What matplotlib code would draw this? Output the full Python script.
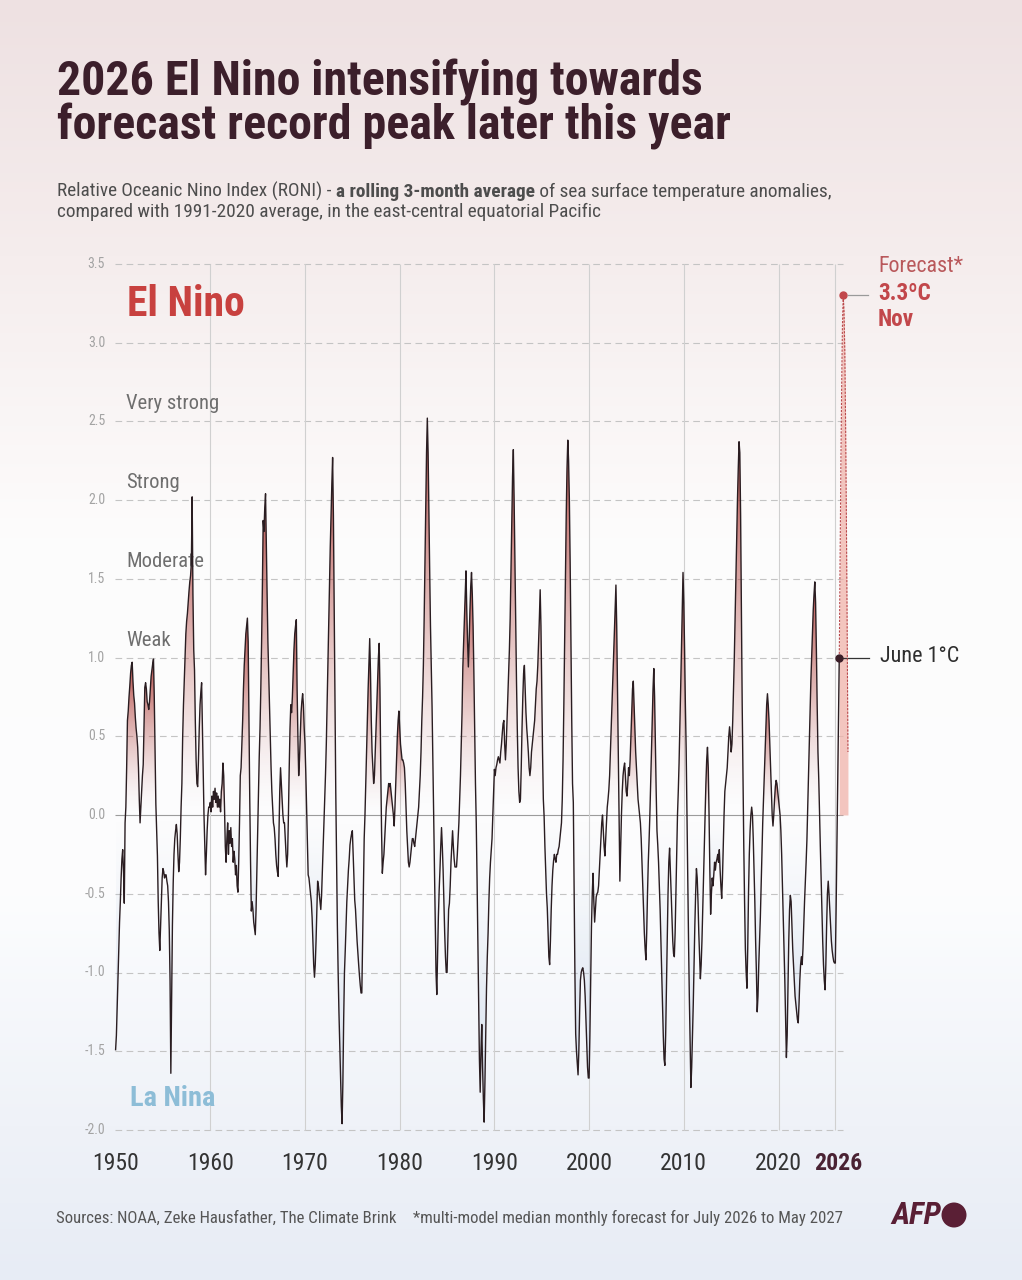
import numpy as np
import matplotlib
matplotlib.use('Agg')
import matplotlib.pyplot as plt
from matplotlib import font_manager
from matplotlib.path import Path
from matplotlib.patches import PathPatch, Ellipse
from matplotlib.colors import to_rgb

# monthly RONI, Jan 1950 .. Jun 2026
start_year = 1950
roni = [
    -1.49, -1.40, -1.22, -1.05, -0.85, -0.68, -0.55, -0.40, -0.28, -0.22, -0.35, -0.56,  # 1950
    -0.05, 0.05, 0.30, 0.60, 0.66, 0.75, 0.82, 0.90, 0.95, 0.97, 0.85, 0.76,  # 1951
    0.71, 0.62, 0.55, 0.50, 0.43, 0.30, 0.10, -0.05, 0.05, 0.15, 0.25, 0.32,  # 1952
    0.55, 0.81, 0.84, 0.80, 0.72, 0.70, 0.67, 0.72, 0.80, 0.88, 0.92, 0.96,  # 1953
    0.99, 0.75, 0.40, 0.07, -0.10, -0.26, -0.55, -0.75, -0.86, -0.70, -0.55, -0.40,  # 1954
    -0.34, -0.36, -0.40, -0.38, -0.38, -0.42, -0.45, -0.55, -0.73, -1.05, -1.64, -1.20,  # 1955
    -0.70, -0.43, -0.25, -0.15, -0.10, -0.06, -0.12, -0.25, -0.36, -0.30, -0.15, 0.05,  # 1956
    0.20, 0.50, 0.70, 0.85, 1.00, 1.15, 1.23, 1.28, 1.35, 1.42, 1.48, 1.52,  # 1957
    1.60, 2.02, 1.40, 1.05, 0.92, 0.60, 0.35, 0.20, 0.18, 0.35, 0.55, 0.70,  # 1958
    0.78, 0.84, 0.55, 0.25, 0.00, -0.20, -0.38, -0.25, -0.10, 0.00, 0.05, 0.05,  # 1959
    0.08, 0.02, 0.12, 0.05, 0.15, 0.10, 0.17, 0.08, 0.14, 0.05, 0.12, 0.05,  # 1960
    0.10, 0.02, 0.15, 0.20, 0.33, 0.25, 0.05, -0.20, -0.30, -0.15, -0.05, -0.25,  # 1961
    -0.10, -0.18, -0.08, -0.20, -0.15, -0.30, -0.23, -0.28, -0.38, -0.32, -0.45, -0.49,  # 1962
    -0.30, -0.05, 0.25, 0.30, 0.45, 0.60, 0.80, 0.95, 1.05, 1.15, 1.20, 1.25,  # 1963
    1.10, 0.60, 0.10, -0.30, -0.61, -0.55, -0.60, -0.68, -0.72, -0.76, -0.60, -0.35,  # 1964
    -0.10, 0.15, 0.37, 0.55, 0.80, 1.10, 1.45, 1.87, 1.80, 1.95, 2.04, 1.70,  # 1965
    1.40, 1.10, 0.90, 0.72, 0.50, 0.30, 0.15, 0.05, -0.05, -0.08, -0.15, -0.25,  # 1966
    -0.32, -0.36, -0.39, -0.10, 0.15, 0.30, 0.20, 0.10, 0.00, -0.05, -0.05, -0.15,  # 1967
    -0.25, -0.33, -0.25, 0.00, 0.30, 0.55, 0.70, 0.65, 0.75, 0.90, 1.05, 1.15,  # 1968
    1.20, 1.24, 0.80, 0.50, 0.25, 0.35, 0.50, 0.65, 0.72, 0.77, 0.70, 0.55,  # 1969
    0.45, 0.27, 0.05, -0.15, -0.38, -0.40, -0.45, -0.50, -0.55, -0.65, -0.80, -0.95,  # 1970
    -1.03, -0.95, -0.80, -0.60, -0.42, -0.45, -0.50, -0.55, -0.60, -0.51, -0.35, -0.20,  # 1971
    -0.05, 0.10, 0.26, 0.45, 0.70, 0.95, 1.20, 1.45, 1.70, 1.90, 2.10, 2.27,  # 1972
    1.90, 1.30, 0.70, 0.14, -0.30, -0.70, -1.00, -1.25, -1.45, -1.65, -1.85, -1.96,  # 1973
    -1.70, -1.30, -1.00, -0.86, -0.70, -0.55, -0.45, -0.35, -0.28, -0.19, -0.15, -0.12,  # 1974
    -0.10, -0.25, -0.40, -0.54, -0.60, -0.70, -0.80, -0.88, -0.95, -1.02, -1.08, -1.13,  # 1975
    -1.13, -0.80, -0.45, -0.15, 0.00, 0.20, 0.40, 0.60, 0.80, 0.95, 1.12, 0.90,  # 1976
    0.60, 0.40, 0.30, 0.20, 0.25, 0.40, 0.55, 0.70, 0.85, 1.00, 1.09, 0.80,  # 1977
    0.30, -0.10, -0.37, -0.30, -0.25, -0.15, -0.05, 0.05, 0.10, 0.15, 0.20, 0.18,  # 1978
    0.20, 0.15, 0.10, 0.05, 0.00, -0.07, 0.05, 0.20, 0.35, 0.50, 0.60, 0.66,  # 1979
    0.55, 0.45, 0.40, 0.35, 0.35, 0.33, 0.30, 0.20, 0.05, -0.10, -0.20, -0.30,  # 1980
    -0.33, -0.30, -0.25, -0.20, -0.15, -0.15, -0.18, -0.20, -0.15, -0.10, -0.05, 0.00,  # 1981
    0.05, 0.15, 0.25, 0.40, 0.60, 0.75, 0.95, 1.25, 1.60, 1.95, 2.30, 2.52,  # 1982
    2.30, 1.90, 1.55, 1.20, 0.95, 0.69, 0.35, 0.00, -0.35, -0.70, -1.00, -1.14,  # 1983
    -0.90, -0.65, -0.48, -0.35, -0.20, -0.08, -0.20, -0.35, -0.55, -0.75, -0.90, -1.00,  # 1984
    -1.00, -0.80, -0.60, -0.56, -0.45, -0.30, -0.20, -0.10, -0.20, -0.28, -0.33, -0.33,  # 1985
    -0.33, -0.25, -0.15, -0.05, 0.10, 0.25, 0.45, 0.65, 0.94, 1.10, 1.25, 1.40,  # 1986
    1.55, 1.30, 1.10, 0.94, 1.10, 1.30, 1.45, 1.54, 1.40, 1.20, 0.90, 0.55,  # 1987
    0.20, -0.05, -0.40, -0.80, -1.20, -1.55, -1.76, -1.50, -1.33, -1.60, -1.80, -1.95,  # 1988
    -1.70, -1.40, -1.10, -0.90, -0.75, -0.55, -0.40, -0.30, -0.22, -0.15, 0.00, 0.15,  # 1989
    0.29, 0.25, 0.30, 0.32, 0.35, 0.37, 0.35, 0.33, 0.40, 0.45, 0.52, 0.58,  # 1990
    0.60, 0.45, 0.35, 0.45, 0.60, 0.75, 0.90, 1.05, 1.25, 1.55, 1.85, 2.15,  # 1991
    2.32, 2.00, 1.60, 1.20, 0.85, 0.55, 0.30, 0.15, 0.08, 0.10, 0.30, 0.55,  # 1992
    0.75, 0.90, 0.95, 0.80, 0.65, 0.55, 0.48, 0.40, 0.30, 0.25, 0.30, 0.40,  # 1993
    0.45, 0.50, 0.55, 0.60, 0.70, 0.80, 0.85, 0.95, 1.10, 1.25, 1.43, 1.20,  # 1994
    0.80, 0.40, 0.10, -0.01, -0.20, -0.35, -0.50, -0.59, -0.75, -0.90, -0.95, -0.80,  # 1995
    -0.60, -0.45, -0.35, -0.29, -0.25, -0.28, -0.30, -0.25, -0.25, -0.22, -0.20, -0.15,  # 1996
    -0.10, -0.05, 0.10, 0.35, 0.70, 1.10, 1.50, 1.90, 2.20, 2.38, 2.25, 2.00,  # 1997
    1.60, 1.10, 0.60, 0.20, 0.08, -0.50, -1.00, -1.39, -1.50, -1.58, -1.65, -1.50,  # 1998
    -1.25, -1.05, -1.00, -0.98, -0.97, -1.00, -1.05, -1.15, -1.30, -1.45, -1.60, -1.67,  # 1999
    -1.67, -1.40, -1.05, -0.71, -0.50, -0.37, -0.55, -0.68, -0.60, -0.52, -0.50, -0.49,  # 2000
    -0.45, -0.35, -0.25, -0.15, -0.05, 0.00, -0.10, -0.20, -0.26, -0.15, -0.05, 0.05,  # 2001
    0.10, 0.16, 0.25, 0.40, 0.55, 0.70, 0.85, 1.00, 1.15, 1.30, 1.46, 1.20,  # 2002
    0.80, 0.40, 0.00, -0.42, -0.20, 0.00, 0.15, 0.25, 0.30, 0.33, 0.25, 0.15,  # 2003
    0.12, 0.20, 0.30, 0.25, 0.35, 0.50, 0.65, 0.80, 0.85, 0.70, 0.55, 0.40,  # 2004
    0.30, 0.20, 0.10, 0.05, 0.00, -0.05, -0.15, -0.30, -0.45, -0.60, -0.75, -0.85,  # 2005
    -0.92, -0.75, -0.50, -0.30, -0.16, 0.00, 0.20, 0.40, 0.60, 0.80, 0.93, 0.75,  # 2006
    0.45, 0.15, -0.10, -0.19, -0.30, -0.45, -0.60, -0.80, -1.00, -1.20, -1.40, -1.55,  # 2007
    -1.59, -1.40, -1.10, -0.80, -0.50, -0.30, -0.21, -0.35, -0.50, -0.65, -0.80, -0.88,  # 2008
    -0.90, -0.75, -0.50, -0.25, 0.00, 0.15, 0.33, 0.55, 0.80, 1.05, 1.30, 1.54,  # 2009
    1.35, 1.05, 0.70, 0.42, 0.00, -0.40, -0.80, -1.15, -1.45, -1.73, -1.60, -1.40,  # 2010
    -1.20, -0.95, -0.70, -0.50, -0.34, -0.40, -0.55, -0.75, -0.90, -1.04, -0.95, -0.80,  # 2011
    -0.60, -0.40, -0.20, 0.00, 0.20, 0.35, 0.43, 0.30, 0.00, -0.35, -0.63, -0.50,  # 2012
    -0.40, -0.45, -0.38, -0.30, -0.35, -0.30, -0.28, -0.25, -0.30, -0.22, -0.35, -0.45,  # 2013
    -0.53, -0.40, -0.20, 0.00, 0.15, 0.20, 0.25, 0.30, 0.40, 0.50, 0.56, 0.50,  # 2014
    0.40, 0.45, 0.60, 0.80, 1.00, 1.25, 1.50, 1.75, 2.00, 2.20, 2.37, 2.30,  # 2015
    1.90, 1.30, 0.70, 0.25, -0.20, -0.55, -0.85, -1.00, -1.10, -0.85, -0.50, -0.25,  # 2016
    -0.10, 0.00, 0.05, 0.00, -0.15, -0.35, -0.55, -0.80, -1.00, -1.25, -1.15, -0.95,  # 2017
    -0.80, -0.65, -0.45, -0.25, -0.05, 0.10, 0.25, 0.40, 0.55, 0.70, 0.77, 0.70,  # 2018
    0.60, 0.45, 0.30, 0.15, 0.00, -0.07, 0.00, 0.10, 0.18, 0.22, 0.20, 0.15,  # 2019
    0.10, 0.05, 0.00, -0.10, -0.25, -0.45, -0.65, -0.85, -1.05, -1.30, -1.54, -1.40,  # 2020
    -1.10, -0.80, -0.60, -0.51, -0.55, -0.70, -0.85, -0.95, -1.05, -1.15, -1.20, -1.25,  # 2021
    -1.30, -1.32, -1.20, -1.05, -0.95, -0.90, -0.95, -0.85, -0.70, -0.55, -0.43, -0.30,  # 2022
    -0.16, 0.05, 0.25, 0.45, 0.65, 0.85, 1.00, 1.15, 1.30, 1.40, 1.48, 1.35,  # 2023
    1.05, 0.70, 0.40, 0.23, 0.00, -0.20, -0.40, -0.60, -0.80, -0.95, -1.05, -1.11,  # 2024
    -0.95, -0.70, -0.50, -0.42, -0.50, -0.60, -0.70, -0.80, -0.86, -0.90, -0.93, -0.94,  # 2025
    -0.94, -0.60, -0.20, 0.20, 0.60, 1.00,  # 2026 Jan-Jun
]

# forecast Jun 2026 .. May 2027
forecast_vals = [1.0, 1.6, 2.2, 2.7, 3.1, 3.3, 3.2, 2.95, 2.5, 1.9, 1.2, 0.4]
forecast_peak_month = 5  # Nov 2026

y_ticks = [3.5, 3.0, 2.5, 2.0, 1.5, 1.0, 0.5, 0.0, -0.5, -1.0, -1.5, -2.0]
x_ticks = [1950, 1960, 1970, 1980, 1990, 2000, 2010, 2020]
strength_names = ['Weak', 'Moderate', 'Strong', 'Very strong']
strength_levels = [1.0, 1.5, 2.0, 2.5]

W, H = 1022, 1280
avail = {f.name for f in font_manager.fontManager.ttflist}
narrow = next((f for f in ['Roboto Condensed', 'Liberation Sans Narrow', 'Open Sans Condensed']
               if f in avail), 'Roboto')
plt.rcParams['font.family'] = [narrow, 'DejaVu Sans']

fig = plt.figure(figsize=(W / 100, H / 100), dpi=100)
renderer = fig.canvas.get_renderer()


def fpos(x, y):
    return x / W, 1 - y / H


def fit(txt, width_px):
    w = txt.get_window_extent(renderer).width
    txt.set_fontsize(txt.get_fontsize() * width_px / w)
    return txt.get_fontsize()


# background gradient: pinkish top, white middle, bluish bottom
bg = fig.add_axes([0, 0, 1, 1], zorder=-10)
stops_y = [0.0, 0.2, 0.42, 0.7, 0.88, 1.0]
stops_c = ['#eee1e2', '#f5eded', '#fdfcfc', '#fcfdfe', '#eff2f8', '#e7ecf5']
yy = np.linspace(0, 1, 400)
cols = np.array([to_rgb(c) for c in stops_c])
grad = np.stack([np.interp(yy, stops_y, cols[:, k]) for k in range(3)], axis=-1)
bg.imshow(grad[:, None, :], aspect='auto', extent=[0, 1, 1, 0])
bg.set_xlim(0, 1)
bg.set_ylim(1, 0)
bg.axis('off')

# main axes: x px = 305 + (yr-1970)*9.47 ; y px = 815 - 157.5*v
x0, x1 = 1948, 2030
y0, y1 = -2.2, 3.6
left = (305 + (x0 - 1970) * 9.47) / W
right = (305 + (x1 - 1970) * 9.47) / W
top = (815 - 157.5 * y1)
bot = (815 - 157.5 * y0)
ax = fig.add_axes([left, 1 - bot / H, right - left, (bot - top) / H])
ax.patch.set_alpha(0)

v = np.array(roni)
t = start_year + np.arange(len(v)) / 12.0

# grid
grid_end = 2026.8
for yt in y_ticks:
    if yt == 0:
        ax.hlines(0, 1949.94, grid_end, color='#9c9c9c', lw=0.8, zorder=1)
    else:
        ax.hlines(yt, 1949.94, grid_end, color='#c4c4c4', lw=0.8,
                  linestyles=(0, (6, 4)), zorder=1)
ax.vlines(x_ticks[1:] + [2026], -2.0, 3.5, color='#d0d0d0', lw=0.8, zorder=1)


# gradient fills for each excursion above/below zero
def cross(k):
    if v[k] == v[k + 1]:
        return t[k]
    return t[k] + (t[k + 1] - t[k]) * v[k] / (v[k] - v[k + 1])


red = to_rgb('#b03f3a')
blue = to_rgb('#b3c6e0')
g = np.linspace(0, 1, 160)[:, None]
n = len(v)
i = 0
while i < n:
    pos = v[i] > 0
    j = i
    while j + 1 < n and (v[j + 1] > 0) == pos:
        j += 1
    ta = cross(i - 1) if i > 0 else t[i]
    tb = cross(j) if j < n - 1 else t[j]
    seg = v[i:j + 1]
    ext = seg.max() if pos else seg.min()
    if abs(ext) > 0.02:
        verts = [(ta, 0)] + list(zip(t[i:j + 1], seg)) + [(tb, 0), (ta, 0)]
        patch = PathPatch(Path(verts), facecolor='none', edgecolor='none')
        ax.add_patch(patch)
        rgba = np.zeros((160, 1, 4))
        if pos:
            rgba[..., :3] = red
            rgba[..., 3] = 0.92 * g ** 1.5
        else:
            rgba[..., :3] = blue
            rgba[..., 3] = 0.45 * g ** 1.3
        im = ax.imshow(rgba, extent=[ta, tb, 0, ext], origin='lower', aspect='auto',
                       interpolation='bilinear', zorder=2)
        im.set_clip_path(patch)
    i = j + 1

ax.plot(t, v, color='#2a1d21', lw=1.0, zorder=4)

# forecast
ft = t[-1] + np.arange(len(forecast_vals)) / 12.0
fv = np.array(forecast_vals)
ax.fill_between(ft, fv, 0, color='#f0b3aa', alpha=0.75, lw=0, zorder=2)
ax.plot(ft, fv, color='#b9484b', lw=0.8, ls=(0, (2, 1.2)), zorder=4)
ax.plot(t[-1], v[-1], 'o', ms=5, color='#3b1e28', zorder=5)
ax.plot(ft[forecast_peak_month], fv[forecast_peak_month], 'o', ms=5, color='#c2474b', zorder=5)
ax.plot([t[-1] + 0.1, 2029.6], [v[-1], v[-1]], color='#333333', lw=0.9, clip_on=False)
ax.plot([2027.35, 2029.45], [fv[forecast_peak_month]] * 2, color='#9a9a9a', lw=0.9, clip_on=False)

ax.set_xlim(x0, x1)
ax.set_ylim(y0, y1)
ax.axis('off')

# tick labels
for yt in y_ticks:
    ax.text(1948.9, yt, f'{yt:.1f}', ha='right', va='center', fontsize=10,
            color='#a3a3a3')
tl = None
for xt in x_ticks:
    tl = ax.text(xt, -2.21, str(xt), ha='center', va='center', fontsize=14,
                 color='#333333', clip_on=False)
xs = fit(tl, 47)
for txt in ax.texts[-len(x_ticks):]:
    txt.set_fontsize(xs)
ax.text(2026.3, -2.21, '2026', ha='center', va='center', fontsize=xs,
        weight='bold', color='#4a2233', clip_on=False)

# strength labels
lab = []
for name, lvl in zip(strength_names, strength_levels):
    lab.append(ax.text(1951.1, lvl + 0.11, name, ha='left', va='center',
                       fontsize=14, color='#6e6e6e'))
ss = fit(lab[-1], 94)
for txt in lab:
    txt.set_fontsize(ss)

en = ax.text(1951.2, 3.24, 'El Nino', ha='left', va='center', fontsize=26,
             weight='bold', color='#c8413f')
fit(en, 118)
ln = ax.text(1951.5, -1.80, 'La Nina', ha='left', va='center', fontsize=18,
             weight='bold', color='#8dbdd7')
fit(ln, 85)

# forecast annotation
fc = fig.text(*fpos(878, 266), 'Forecast*', ha='left', va='center', fontsize=14,
              color='#b9585b')
fit(fc, 86)
nv = fig.text(*fpos(878, 319), 'Nov', ha='left', va='center', fontsize=14,
              weight='bold', color='#c2474b')
ns = fit(nv, 36)
fig.text(*fpos(878, 294), '3.3ºC', ha='left', va='center', fontsize=ns,
         weight='bold', color='#c2474b')
ju = fig.text(*fpos(880, 657), 'June 1°C', ha='left', va='center', fontsize=14,
              color='#2e2e2e')
fit(ju, 80)

# title
t1 = fig.text(*fpos(57, 95), '2026 El Nino intensifying towards', ha='left',
              va='baseline', fontsize=30, weight='bold', color='#3c1f2b')
ts = fit(t1, 646)
fig.text(*fpos(57, 140), 'forecast record peak later this year', ha='left',
         va='baseline', fontsize=ts, weight='bold', color='#3c1f2b')

# subtitle with bold middle part
parts = [('Relative Oceanic Nino Index (RONI) - ', 'normal'),
         ('a rolling 3-month average', 'bold'),
         (' of sea surface temperature anomalies,', 'normal')]
size = 12
objs = []
for s, wt in parts:
    objs.append(fig.text(0, 1 - 197 / H, s, ha='left', va='baseline', fontsize=size,
                         weight=wt, color='#4d4d4d'))
total = sum(o.get_window_extent(renderer).width for o in objs)
size = size * 776 / total
xcur = 57
for o in objs:
    o.set_fontsize(size)
    o.set_x(xcur / W)
    xcur += o.get_window_extent(renderer).width
fig.text(*fpos(57, 217), 'compared with 1991-2020 average, in the east-central equatorial Pacific',
         ha='left', va='baseline', fontsize=size, color='#4d4d4d')

# footer
src = fig.text(*fpos(56, 1218), 'Sources: NOAA, Zeke Hausfather, The Climate Brink',
               ha='left', va='center', fontsize=11, color='#555555')
fs = fit(src, 341)
fig.text(*fpos(413, 1218), '*multi-model median monthly forecast for July 2026 to May 2027',
         ha='left', va='center', fontsize=fs, color='#555555')
afp = fig.text(*fpos(941, 1215), 'AFP', ha='right', va='center', fontsize=16,
               weight='bold', style='italic', color='#5a1f35')
fit(afp, 50)
fig.patches.append(Ellipse(fpos(954, 1215), 25 / W, 25 / H, transform=fig.transFigure,
                           facecolor='#5a1f35', edgecolor='none'))

fig.savefig('out.png', dpi=100)
